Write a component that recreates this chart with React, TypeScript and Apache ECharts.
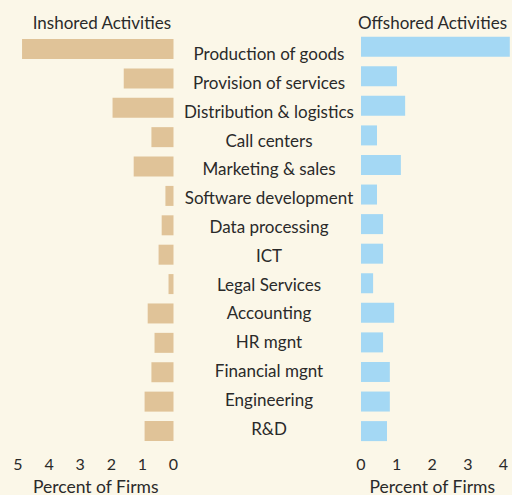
import React, { useEffect, useRef } from "react";
import * as echarts from "echarts";

const categories = [
  "Production of goods",
  "Provision of services",
  "Distribution & logistics",
  "Call centers",
  "Marketing & sales",
  "Software development",
  "Data processing",
  "ICT",
  "Legal Services",
  "Accounting",
  "HR mgnt",
  "Financial mgnt",
  "Engineering",
  "R&D",
];

const inshored = [4.87, 1.6, 1.96, 0.71, 1.28, 0.26, 0.38, 0.48, 0.16, 0.83, 0.61, 0.71, 0.93, 0.93];
const offshored = [4.18, 1.01, 1.24, 0.45, 1.12, 0.45, 0.62, 0.62, 0.34, 0.93, 0.62, 0.81, 0.81, 0.73];

const leftTicks = [0, 1, 2, 3, 4, 5];
const rightTicks = [0, 1, 2, 3, 4];

const FONT = "Lato, 'Noto Sans', sans-serif";
const TEXT = "#2a2a2a";

export default function App() {
  const ref = useRef<HTMLDivElement>(null);
  useEffect(() => {
    document.body.style.margin = "0";
    const chart = echarts.init(ref.current!, null, { renderer: "svg" });
    const bottomAxisCommon = {
      type: "value",
      interval: 1,
      axisLine: { show: false },
      axisTick: { show: false },
      splitLine: { show: false },
      axisLabel: { fontFamily: FONT, fontSize: 16, color: TEXT, margin: 10 },
      name: "Percent of Firms",
      nameLocation: "middle",
      nameGap: 32,
      nameTextStyle: { fontFamily: FONT, fontSize: 17.5, color: TEXT },
    };
    chart.setOption({
      animation: false,
      backgroundColor: "#fbf7e8",
      grid: [
        { left: 18, width: 155.5, top: 34.3, height: 411.4, outerBoundsMode: "none", containLabel: false },
        { left: 361, width: 142.4, top: 31.9, height: 414, outerBoundsMode: "none", containLabel: false },
        { left: 173.5, width: 1, top: 39.2, height: 403.2, outerBoundsMode: "none", containLabel: false },
      ],
      xAxis: [
        { ...bottomAxisCommon, gridIndex: 0, min: 0, max: leftTicks[leftTicks.length - 1], inverse: true },
        { ...bottomAxisCommon, gridIndex: 1, min: 0, max: rightTicks[rightTicks.length - 1] },
        { type: "value", gridIndex: 2, show: false, min: 0, max: 1 },
      ],
      yAxis: [
        { type: "category", gridIndex: 0, data: categories, inverse: true, show: false },
        { type: "category", gridIndex: 1, data: categories, inverse: true, show: false },
        {
          type: "category",
          gridIndex: 2,
          data: categories,
          inverse: true,
          position: "left",
          axisLine: { show: false },
          axisTick: { show: false },
          axisLabel: {
            fontFamily: FONT,
            fontSize: 17,
            color: TEXT,
            align: "center",
            margin: -95.5,
          },
        },
      ],
      graphic: [
        {
          type: "text",
          x: 171,
          y: 22,
          style: { text: "Inshored Activities", align: "right", verticalAlign: "middle", font: `17px ${FONT}`, fill: TEXT },
        },
        {
          type: "text",
          x: 358,
          y: 22,
          style: { text: "Offshored Activities", align: "left", verticalAlign: "middle", font: `17px ${FONT}`, fill: TEXT },
        },
      ],
      series: [
        {
          type: "bar",
          xAxisIndex: 0,
          yAxisIndex: 0,
          data: inshored,
          barWidth: 20,
          itemStyle: { color: "#e0c398" },
          clip: false,
        },
        {
          type: "bar",
          xAxisIndex: 1,
          yAxisIndex: 1,
          data: offshored,
          barWidth: 20,
          itemStyle: { color: "#a4d8f4" },
          clip: false,
        },
        { type: "bar", xAxisIndex: 2, yAxisIndex: 2, data: [] },
      ],
    });
    return () => chart.dispose();
  }, []);
  return <div ref={ref} style={{ width: 512, height: 495 }} />;
}
